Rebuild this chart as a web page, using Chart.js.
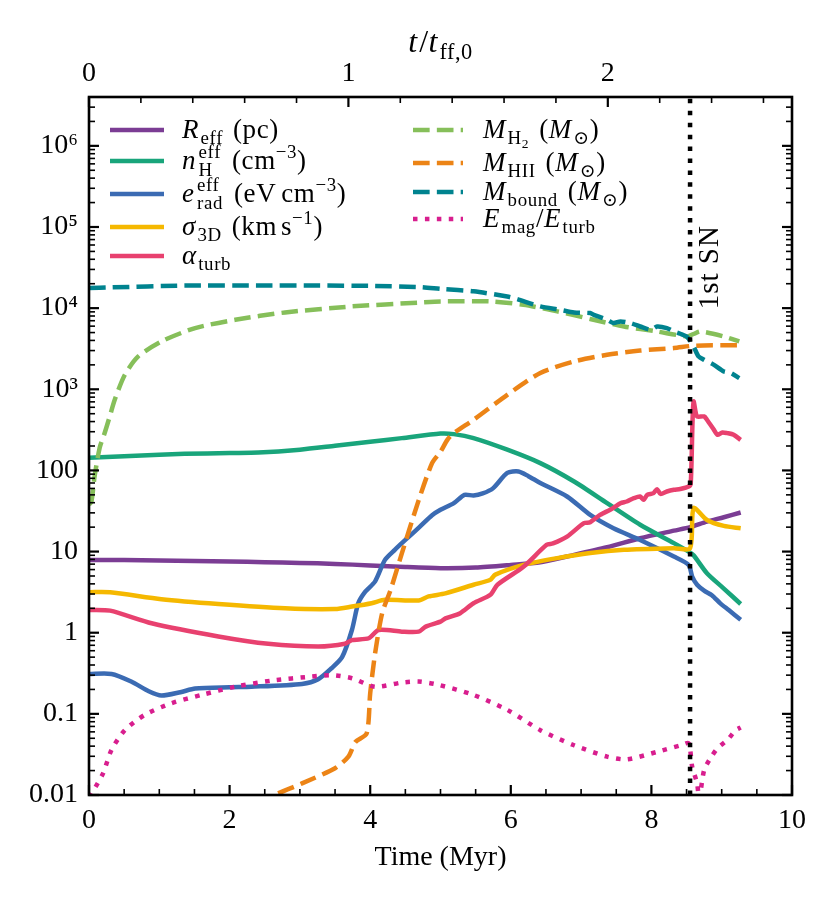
<!DOCTYPE html>
<html><head><meta charset="utf-8">
<script src="https://cdn.jsdelivr.net/npm/chart.js@4.4.1/dist/chart.umd.min.js"></script>
<style>html,body{margin:0;padding:0;background:#fff}</style>
</head><body>
<canvas id="c" width="830" height="901" style="display:block;width:830px;height:901px"></canvas>
<script>
const FONT = '"Liberation Serif", "DejaVu Serif", serif';
const FS = 28;   // tick / label font size
const LFS = 27;  // legend font size
const tff = 3.69;            // Myr per free-fall time
const tSN = 8.55;            // first supernova (Myr)
const xTicks = [0, 2, 4, 6, 8, 10];
const topTicks = [0, 1, 2];
const yTicks = [0.01, 0.1, 1, 10, 100, 1e3, 1e4, 1e5, 1e6];
const yTickLabels = ['0.01', '0.1', '1', '10', '100', '10³', '10⁴', '10⁵', '10⁶'];

// R_eff (pc)
const tReff = [0, 0.5, 1, 1.5, 2, 2.5, 3, 3.5, 4, 4.5, 5, 5.5, 6, 6.42, 6.9, 7.37, 7.84, 8.32, 8.55, 8.79, 9.03, 9.27];
const vReff = [7.9, 7.85, 7.75, 7.65, 7.55, 7.4, 7.25, 7.05, 6.75, 6.45, 6.25, 6.35, 6.85, 7.4, 9.1, 11.3, 14.6, 18.1, 20, 23.4, 26.5, 30.3];
// n_H^eff (cm^-3)
const tnH = [0, 0.5, 1, 1.36, 2, 2.41, 3, 3.5, 4, 4.45, 5.0, 5.19, 5.47, 5.95, 6.42, 6.9, 7.37, 7.84, 8.32, 8.53, 8.6, 8.79, 9.03, 9.27];
const vnH = [143, 150, 156, 160, 164, 166, 180, 201, 225, 250, 285, 280, 250, 180, 123, 73, 39.5, 21.4, 12.7, 10, 9.0, 5.4, 3.5, 2.26];
// e_rad^eff (eV cm^-3)
const trad = [0, 0.32, 0.6, 0.85, 1.03, 1.3, 1.51, 2.0, 2.31, 3.03, 3.26, 3.45, 3.6, 3.74, 3.83, 3.93, 4.07, 4.21, 4.35, 4.5, 4.7, 4.88, 5.0, 5.19, 5.34, 5.47, 5.6, 5.75, 5.95, 6.11, 6.25, 6.42, 6.8, 7.13, 7.46, 7.84, 8.32, 8.53, 8.58, 8.65, 8.75, 8.86, 8.98, 9.1, 9.27];
const vrad = [0.31, 0.31, 0.25, 0.19, 0.168, 0.185, 0.205, 0.213, 0.216, 0.234, 0.267, 0.365, 0.5, 1.08, 2.3, 3.2, 4.3, 7.9, 10.5, 13.9, 20, 28, 32.7, 39.5, 50, 49, 52, 60.5, 93, 97, 85, 70, 47.7, 28.3, 19.4, 13.9, 8.7, 6.85, 4.9, 3.9, 3.3, 2.9, 2.3, 1.9, 1.44];
// sigma_3D (km s^-1)
const tsig = [0, 0.3, 1.03, 1.84, 2.79, 3.5, 3.74, 4.02, 4.21, 4.69, 4.83, 5.07, 5.47, 5.71, 5.78, 6.18, 6.66, 7.13, 7.61, 8.32, 8.55, 8.60, 8.79, 9.03, 9.27];
const vsig = [3.16, 3.15, 2.59, 2.26, 2.0, 1.96, 2.1, 2.31, 2.54, 2.5, 2.8, 3.05, 3.9, 4.5, 5.2, 6.85, 8.3, 9.6, 10.5, 11.0, 11.0, 34.3, 24.5, 20.7, 19.4];
// alpha_turb
const talp = [0, 0.3, 0.89, 1.84, 2.55, 3.26, 3.64, 3.74, 3.98, 4.12, 4.45, 4.69, 4.79, 5.0, 5.07, 5.28, 5.47, 5.71, 5.81, 6.18, 6.51, 6.6, 6.8, 7.04, 7.13, 7.27, 7.42, 7.56, 7.65, 7.75, 7.84, 7.89, 7.94, 8.03, 8.08, 8.13, 8.22, 8.32, 8.41, 8.53, 8.56, 8.585, 8.60, 8.63, 8.65, 8.75, 8.79, 8.89, 8.94, 9.01, 9.08, 9.17, 9.27];
const valp = [1.91, 1.87, 1.31, 0.90, 0.73, 0.675, 0.73, 0.81, 0.855, 1.08, 1.03, 1.03, 1.19, 1.37, 1.5, 1.74, 2.31, 2.93, 3.9, 6.5, 12.1, 12.6, 15.3, 22.4, 23, 28.3, 33, 39.5, 41.4, 45.5, 47.7, 43.4, 50, 52.5, 58.8, 51.4, 55, 57.7, 59, 63.3, 70, 400, 708, 520, 462, 462, 421, 316, 275, 294, 288, 275, 238];
// M_H2 (Msun)
const tH2 = [0, 0.034, 0.081, 0.152, 0.224, 0.295, 0.366, 0.51, 0.7, 1.03, 1.51, 2.08, 2.79, 3.74, 4.69, 5.0, 5.71, 6.18, 6.66, 7.13, 7.61, 8.08, 8.51, 8.6, 8.7, 9.03, 9.25];
const vH2 = [38, 41, 86, 190, 291, 462, 743, 1510, 2540, 3890, 5680, 7190, 8850, 10500, 11700, 12100, 12100, 11000, 9120, 7350, 5940, 5160, 4480, 4800, 5160, 4480, 3890];
// M_HII (Msun)
const tHII = [2.4, 2.64, 3.03, 3.5, 3.69, 3.79, 3.95, 4.0, 4.07, 4.17, 4.29, 4.45, 4.69, 4.88, 5.0, 5.1, 5.19, 5.47, 5.95, 6.42, 6.9, 7.37, 7.84, 8.32, 8.6, 9.27];
const vHII = [0.0075, 0.01, 0.0139, 0.0214, 0.0297, 0.045, 0.0575, 0.18, 0.56, 1.74, 3.37, 9.5, 43, 123, 170, 240, 288, 421, 855, 1590, 2200, 2660, 3000, 3220, 3440, 3500];
// M_bound (Msun)
const tbnd = [0, 0.3, 1.36, 2.5, 3.26, 4.0, 4.69, 5.02, 5.47, 5.95, 6.09, 6.42, 6.70, 6.90, 7.13, 7.18, 7.37, 7.46, 7.56, 7.70, 7.84, 7.99, 8.08, 8.22, 8.32, 8.41, 8.51, 8.60, 8.67, 8.75, 8.89, 9.03, 9.13, 9.25];
const vbnd = [17700, 18000, 19000, 19000, 19000, 18800, 18200, 17200, 16100, 13900, 12900, 10500, 9550, 8850, 8690, 8280, 7190, 6550, 6860, 6550, 5940, 5420, 5940, 5680, 5160, 4830, 4400, 3370, 2540, 2310, 2000, 1660, 1590, 1375];
// E_mag / E_turb
const tmag = [0, 0.04, 0.2, 0.32, 0.51, 0.79, 1.17, 1.6, 2.08, 2.6, 3.17, 3.45, 3.74, 4.07, 4.45, 4.69, 4.98, 5.47, 5.95, 6.42, 6.9, 7.37, 7.65, 8.08, 8.42, 8.53, 8.58, 8.65, 8.68, 8.75, 8.84, 8.94, 9.08, 9.2, 9.27];
const vmag = [0.0095, 0.0105, 0.0185, 0.036, 0.063, 0.097, 0.135, 0.171, 0.216, 0.257, 0.288, 0.30, 0.275, 0.216, 0.243, 0.25, 0.227, 0.171, 0.112, 0.063, 0.041, 0.0297, 0.0275, 0.034, 0.041, 0.0434, 0.0223, 0.0139, 0.009, 0.0203, 0.0284, 0.0377, 0.0476, 0.063, 0.068];

const seriesNames = ['R_eff', 'n_H', 'e_rad', 'sigma_3D', 'alpha_turb', 'M_H2', 'M_HII', 'M_bound', 'E_mag/E_turb'];
const seriesColors = ['#7b3d94', '#19a57b', '#3b6bb3', '#f5b800', '#e8416f', '#86bf5a', '#ec8416', '#00838f', '#d81e8e'];
const seriesStyles = ['solid', 'solid', 'solid', 'solid', 'solid', 'dashed', 'dashed', 'dashed', 'dotted'];
const seriesT = [tReff, tnH, trad, tsig, talp, tH2, tHII, tbnd, tmag];
const seriesV = [vReff, vnH, vrad, vsig, valp, vH2, vHII, vbnd, vmag];

// legend labels as math segments: i=italic, r=roman, b=subscript, p=superscript, bb=sub-subscript, ss=[sup,sub], g=gap(px)
const legendLabels = [
  [['i','R'],['b','eff'],['g',10],['r','(pc)']],
  [['i','n'],['ss','eff','H'],['g',10],['r','(cm'],['p','−3'],['r',')']],
  [['i','e'],['ss','eff','rad'],['g',10],['r','(eV'],['g',5],['r','cm'],['p','−3'],['r',')']],
  [['i','σ'],['b','3D'],['g',10],['r','(km'],['g',4],['r','s'],['p','−1'],['r',')']],
  [['i','α'],['b','turb']],
  [['i','M'],['b','H'],['bb','2'],['g',10],['r','('],['i','M'],['b','⊙'],['r',')']],
  [['i','M'],['b','HII'],['g',10],['r','('],['i','M'],['b','⊙'],['r',')']],
  [['i','M'],['b','bound'],['g',10],['r','('],['i','M'],['b','⊙'],['r',')']],
  [['i','E'],['b','mag'],['r','/'],['i','E'],['b','turb']]
];
const topTitle = [['i','t'],['r','/'],['i','t'],['b','ff,0']];
const snLabel = '1st SN';

const LW = 4.5;
function dashFor(style) {
  if (style === 'dashed') return [3.7 * LW, 1.6 * LW];
  if (style === 'dotted') return [LW, 1.65 * LW];
  return [];
}

const datasets = seriesNames.map((name, i) => ({
  label: name,
  data: seriesT[i].map((t, k) => ({x: t, y: seriesV[i][k]})),
  borderColor: seriesColors[i],
  backgroundColor: seriesColors[i],
  borderWidth: LW,
  borderDash: dashFor(seriesStyles[i]),
  borderCapStyle: 'butt',
  borderJoinStyle: 'round',
  pointRadius: 0,
  tension: 0.25,
  fill: false,
  order: -i
}));
datasets.push({
  label: 'SN',
  data: [{x: tSN, y: 0.01}, {x: tSN, y: 4e6}],
  borderColor: '#000',
  borderWidth: LW,
  borderDash: [LW, 1.65 * LW],
  borderCapStyle: 'butt',
  pointRadius: 0,
  fill: false,
  order: -20
});

function drawMath(ctx, segs, x, y, size, spacing) {
  const sm = size * 0.7, ssm = size * 0.5;
  let cx = x;
  ctx.textBaseline = 'alphabetic';
  ctx.textAlign = 'left';
  ctx.letterSpacing = (spacing || 0) + 'px';
  for (const s of segs) {
    const k = s[0];
    if (k === 'g') { cx += s[1]; continue; }
    if (k === 'ss') {
      ctx.font = `${sm}px ${FONT}`;
      const w1 = ctx.measureText(s[1]).width, w2 = ctx.measureText(s[2]).width;
      ctx.fillText(s[1], cx + 1, y - size * 0.42);
      ctx.fillText(s[2], cx + 1, y + size * 0.26);
      cx += Math.max(w1, w2) + 2;
    } else if (k === 'i' || k === 'r') {
      ctx.font = `${k === 'i' ? 'italic ' : ''}${size}px ${FONT}`;
      ctx.fillText(s[1], cx, y);
      cx += ctx.measureText(s[1]).width + (k === 'i' ? 1.5 : 0);
    } else if (k === 'b') {
      ctx.font = `${sm}px ${FONT}`;
      ctx.fillText(s[1], cx, y + size * 0.22);
      cx += ctx.measureText(s[1]).width;
    } else if (k === 'bb') {
      ctx.font = `${ssm}px ${FONT}`;
      ctx.fillText(s[1], cx, y + size * 0.36);
      cx += ctx.measureText(s[1]).width;
    } else if (k === 'p') {
      ctx.font = `${sm}px ${FONT}`;
      ctx.fillText(s[1], cx, y - size * 0.4);
      cx += ctx.measureText(s[1]).width;
    }
  }
  ctx.letterSpacing = '0px';
  return cx - x;
}

const decor = {
  id: 'decor',
  beforeDraw(chart) {
    const c = chart.ctx;
    c.save(); c.fillStyle = '#fff'; c.fillRect(0, 0, chart.width, chart.height); c.restore();
  },
  afterDraw(chart) {
    const ctx = chart.ctx;
    const a = chart.chartArea;
    const xs = chart.scales.x, ys = chart.scales.y, xt = chart.scales.x2;
    ctx.save();
    ctx.strokeStyle = '#000';
    ctx.fillStyle = '#000';
    const tick = (x1, y1, x2, y2, w) => { ctx.lineWidth = w; ctx.beginPath(); ctx.moveTo(x1, y1); ctx.lineTo(x2, y2); ctx.stroke(); };
    const MJ = 10, MN = 6;
    for (let t = 0; t <= 10.001; t += 0.5) {
      const px = xs.getPixelForValue(t);
      const major = Math.abs(t / 2 - Math.round(t / 2)) < 1e-6;
      tick(px, a.bottom, px, a.bottom - (major ? MJ : MN), major ? 2.2 : 1.6);
    }
    for (let k = 0; k <= 13; k++) {
      const v = k * 0.2;
      if (v > xt.max + 1e-6) break;
      const px = xt.getPixelForValue(v);
      const major = k % 5 === 0;
      tick(px, a.top, px, a.top + (major ? MJ : MN), major ? 2.2 : 1.6);
    }
    for (let e = -2; e <= 6; e++) {
      for (let m = 1; m <= 9; m++) {
        const v = m * Math.pow(10, e);
        if (v > ys.max * 1.0001) break;
        const py = ys.getPixelForValue(v);
        const major = m === 1;
        const L = major ? MJ : MN, w = major ? 2.2 : 1.6;
        tick(a.left, py, a.left + L, py, w);
        tick(a.right, py, a.right - L, py, w);
      }
    }
    ctx.lineWidth = 2.6;
    ctx.strokeRect(a.left, a.top, a.right - a.left, a.bottom - a.top);
    // top axis title
    ctx.fillStyle = '#000';
    const off = document.createElement('canvas').getContext('2d');
    const TS = FS + 4;
    const tw = drawMath(off, topTitle, 0, 0, TS, 0.5);
    drawMath(ctx, topTitle, (a.left + a.right) / 2 - tw / 2, 52, TS, 0.5);
    // SN label
    ctx.save();
    ctx.translate(xs.getPixelForValue(tSN) + 20, ys.getPixelForValue(3.2e4));
    ctx.rotate(-Math.PI / 2);
    ctx.font = `${FS + 1}px ${FONT}`;
    ctx.letterSpacing = '1px';
    ctx.textAlign = 'center'; ctx.textBaseline = 'middle';
    ctx.fillText(snLabel, 0, 0);
    ctx.restore();
    // legend
    const col1 = {x0: 110, x1: 164, tx: 182, ys: [130, 161, 194, 227, 256]};
    const col2 = {x0: 413, x1: 463, tx: 483, ys: [130, 163, 192, 219]};
    seriesNames.forEach((n, i) => {
      const col = i < 5 ? col1 : col2;
      const yy = col.ys[i < 5 ? i : i - 5];
      ctx.strokeStyle = seriesColors[i];
      ctx.lineWidth = LW;
      ctx.lineCap = 'butt';
      ctx.setLineDash(dashFor(seriesStyles[i]));
      ctx.beginPath(); ctx.moveTo(col.x0, yy); ctx.lineTo(col.x1, yy); ctx.stroke();
      ctx.setLineDash([]);
      ctx.fillStyle = '#000';
      drawMath(ctx, legendLabels[i], col.tx, yy + 8, LFS, 0.6);
    });
    ctx.restore();
  }
};

new Chart(document.getElementById('c'), {
  type: 'line',
  data: {datasets},
  plugins: [decor],
  options: {
    responsive: false,
    animation: false,
    devicePixelRatio: 1,
    layout: {padding: {left: 0, right: 38, top: 0, bottom: 0}},
    plugins: {legend: {display: false}, tooltip: {enabled: false}},
    scales: {
      x: {
        type: 'linear', position: 'bottom', min: 0, max: 10,
        afterBuildTicks: s => { s.ticks = xTicks.map(v => ({value: v})); },
        afterFit: s => { s.height = 106; },
        grid: {display: false, drawTicks: false},
        border: {display: false},
        ticks: {font: {family: FONT, size: FS}, color: '#000', padding: 9, maxRotation: 0},
        title: {display: true, text: 'Time (Myr)', font: {family: FONT, size: FS}, color: '#000', padding: {top: 0, bottom: 27}}
      },
      x2: {
        type: 'linear', position: 'top', min: 0, max: 10 / tff,
        afterBuildTicks: s => { s.ticks = topTicks.map(v => ({value: v})); },
        afterFit: s => { s.height = 97; },
        grid: {display: false, drawTicks: false},
        border: {display: false},
        ticks: {font: {family: FONT, size: FS}, color: '#000', padding: 7, maxRotation: 0}
      },
      y: {
        type: 'logarithmic', position: 'left', min: 0.01, max: 4e6,
        afterBuildTicks: s => { s.ticks = yTicks.map(v => ({value: v})); },
        afterFit: s => { s.width = 89; },
        grid: {display: false, drawTicks: false},
        border: {display: false},
        ticks: {font: {family: FONT, size: FS}, color: '#000', padding: 11,
          callback: (v, i) => yTickLabels[i]}
      }
    }
  }
});
</script>
</body></html>
